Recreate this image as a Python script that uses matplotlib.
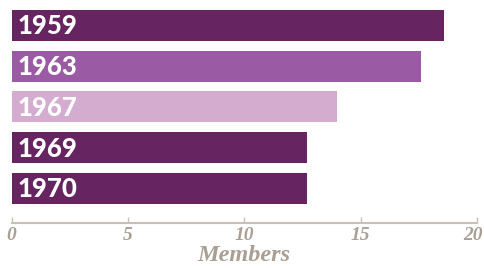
import matplotlib
matplotlib.use("Agg")
import matplotlib.pyplot as plt
import matplotlib.transforms as mtransforms

years = ["1959", "1963", "1967", "1969", "1970"]
members = [18.6, 17.6, 14.0, 12.7, 12.7]
colors = ["#662461", "#9a5ba4", "#d4acd0", "#662461", "#662461"]
xticks = [0, 5, 10, 15, 20]

axis_color = "#a99f93"
line_color = "#c9c1b9"

fig = plt.figure(figsize=(4.85, 2.68), dpi=100)
ax = fig.add_axes([11.67 / 485, 1 - 222.7 / 268, (477 - 11.67) / 485, (222.7 - 10) / 268])

pos = list(range(len(years)))
ax.barh(pos, members, height=0.76, color=colors, left=0)
for p, y, v in zip(pos, years, members):
    ax.text(0.24, p + 0.02, y, color="white", fontsize=18.5, fontweight=900,
            family="Lato", va="center", ha="left")

ax.set_xlim(0, 20)
ax.set_ylim(4.84, -0.38)
ax.set_xticks(xticks)
ax.set_xticklabels([str(t) for t in xticks], family="Liberation Serif",
                   style="italic", fontweight="bold", fontsize=14, color=axis_color)
ax.set_yticks([])
for s in ["top", "right", "left"]:
    ax.spines[s].set_visible(False)
ax.spines["bottom"].set_color(line_color)
ax.spines["bottom"].set_linewidth(1.5)
ax.tick_params(axis="x", direction="in", length=4, width=1, color=line_color, pad=3)
ax.set_xlabel("Members", family="Liberation Serif", style="italic", fontweight="bold",
              fontsize=17.5, color=axis_color, labelpad=1)

last = ax.get_xticklabels()[-1]
last.set_transform(last.get_transform() + mtransforms.ScaledTranslation(-4 / 100, 0, fig.dpi_scale_trans))
fig.savefig("out.png", dpi=100)
